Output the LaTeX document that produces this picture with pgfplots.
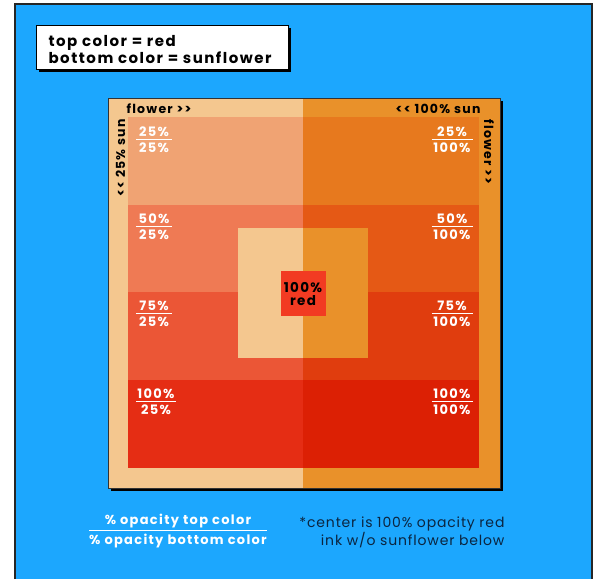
\documentclass[border=0pt]{standalone}
\usepackage{pgfplots}
\pgfplotsset{compat=1.18}
\usepackage{fontspec}
\setmainfont{Poppins}
\newfontfamily\lbl[LetterSpace=10]{Poppins}
\newfontfamily\note[LetterSpace=6]{Poppins}

\definecolor{sky}{HTML}{1CA7FE}
\definecolor{sun25}{HTML}{F4C78F}
\definecolor{sun100}{HTML}{E9912A}
\definecolor{r1l}{HTML}{F0A373}
\definecolor{r1r}{HTML}{E7791E}
\definecolor{r2l}{HTML}{EF7A54}
\definecolor{r2r}{HTML}{E55915}
\definecolor{r3l}{HTML}{EB5636}
\definecolor{r3r}{HTML}{E03D0E}
\definecolor{r4l}{HTML}{E52D14}
\definecolor{r4r}{HTML}{DC2004}
\definecolor{redink}{HTML}{F23B22}
\definecolor{navy}{HTML}{0B2540}

% fraction: width, numerator, denominator
\newcommand\frc[3]{\vbox{\hsize=#1\offinterlineskip
  \hbox to\hsize{\hss\rule{0pt}{9pt}#2\hss}\kern2pt
  \hrule height 0.9pt\kern3pt
  \hbox to\hsize{\hss\rule{0pt}{9pt}#3\hss}}}

\begin{document}
\begin{tikzpicture}
\begin{axis}[
  scale only axis, width=594pt, height=579pt,
  xmin=0, xmax=594, ymin=0, ymax=579, y dir=reverse,
  hide axis, clip=false, no markers,
  every node/.style={inner sep=0pt},
]
% page and blue field
\addplot[fill=white, draw=none] coordinates {(0,0) (594,0) (594,579) (0,579)} --cycle;
\addplot[fill=sky, draw=none] coordinates {(15,4) (592,4) (592,579) (15,579)} --cycle;
\addplot[draw=black!85, line width=1.2pt] coordinates {(15,579) (15,4) (592,4) (592,579)};

% key box
\addplot[fill=black, draw=none] coordinates {(39,28) (291,28) (291,72) (39,72)} --cycle;
\addplot[fill=white, draw=black, line width=0.8pt] coordinates {(36,25) (288,25) (288,69) (36,69)} --cycle;

% big square: shadow, then sunflower at 25% (left) and 100% (right)
\addplot[fill=black, draw=none] coordinates {(111,101) (503,101) (503,491) (111,491)} --cycle;
\addplot[fill=sun25, draw=none] coordinates {(108,98) (303,98) (303,488) (108,488)} --cycle;
\addplot[fill=sun100, draw=none] coordinates {(303,98) (500,98) (500,488) (303,488)} --cycle;
\addplot[draw=black!80, line width=0.8pt] coordinates {(108,98) (500,98) (500,488) (108,488)} --cycle;

% red at 25, 50, 75, 100 percent
\addplot[fill=r1l, draw=none] coordinates {(128,117) (303,117) (303,205) (128,205)} --cycle;
\addplot[fill=r1r, draw=none] coordinates {(303,117) (479,117) (479,205) (303,205)} --cycle;
\addplot[fill=r2l, draw=none] coordinates {(128,205) (303,205) (303,292) (128,292)} --cycle;
\addplot[fill=r2r, draw=none] coordinates {(303,205) (479,205) (479,292) (303,292)} --cycle;
\addplot[fill=r3l, draw=none] coordinates {(128,292) (303,292) (303,380) (128,380)} --cycle;
\addplot[fill=r3r, draw=none] coordinates {(303,292) (479,292) (479,380) (303,380)} --cycle;
\addplot[fill=r4l, draw=none] coordinates {(128,380) (303,380) (303,468) (128,468)} --cycle;
\addplot[fill=r4r, draw=none] coordinates {(303,380) (479,380) (479,468) (303,468)} --cycle;

% center: sunflower only, then red only
\addplot[fill=sun25, draw=none] coordinates {(238,228) (303,228) (303,358) (238,358)} --cycle;
\addplot[fill=sun100, draw=none] coordinates {(303,228) (368,228) (368,358) (303,358)} --cycle;
\addplot[fill=redink, draw=none] coordinates {(281,271) (326,271) (326,316) (281,316)} --cycle;

% key text
\node[anchor=north west, align=left, font=\lbl\bfseries\fontsize{15}{15}\selectfont]
  at (45,32) {top color = red\\bottom color = sunflower};

% edge labels
\begin{scope}[every node/.append style={font=\lbl\bfseries\fontsize{12.5}{13}\selectfont}]
\node[anchor=base west] at (123,114) {flower >{}>};
\node[anchor=base east] at (484,114) {<{}< 100\% sun};
\node[rotate=90, anchor=base] at (125,158) {<{}< 25\% sun};
\node[rotate=-90, anchor=base] at (484,152) {flower >{}>};
\end{scope}

% opacity fractions
\begin{scope}[every node/.append style={text=white, font=\lbl\bfseries\fontsize{13}{14}\selectfont}]
\node at (154,140) {\frc{36pt}{25\%}{25\%}};
\node at (154,227) {\frc{36pt}{50\%}{25\%}};
\node at (154,314) {\frc{36pt}{75\%}{25\%}};
\node at (156,402) {\frc{40pt}{100\%}{25\%}};
\node at (452,140) {\frc{41pt}{25\%}{100\%}};
\node at (452,227) {\frc{41pt}{50\%}{100\%}};
\node at (452,314) {\frc{41pt}{75\%}{100\%}};
\node at (452,402) {\frc{41pt}{100\%}{100\%}};
\node at (178,531) {\frc{178pt}{\% opacity top color}{\% opacity bottom color}};
\end{scope}

\node[align=center, font=\lbl\bfseries\fontsize{13.5}{13}\selectfont] at (303,294) {100\%\\red};
\node[anchor=east, align=right, text=navy, font=\note\fontsize{14}{15.5}\selectfont]
  at (508,532) {*center is 100\% opacity red\\ink w/o sunflower below};
\end{axis}
\end{tikzpicture}
\end{document}
